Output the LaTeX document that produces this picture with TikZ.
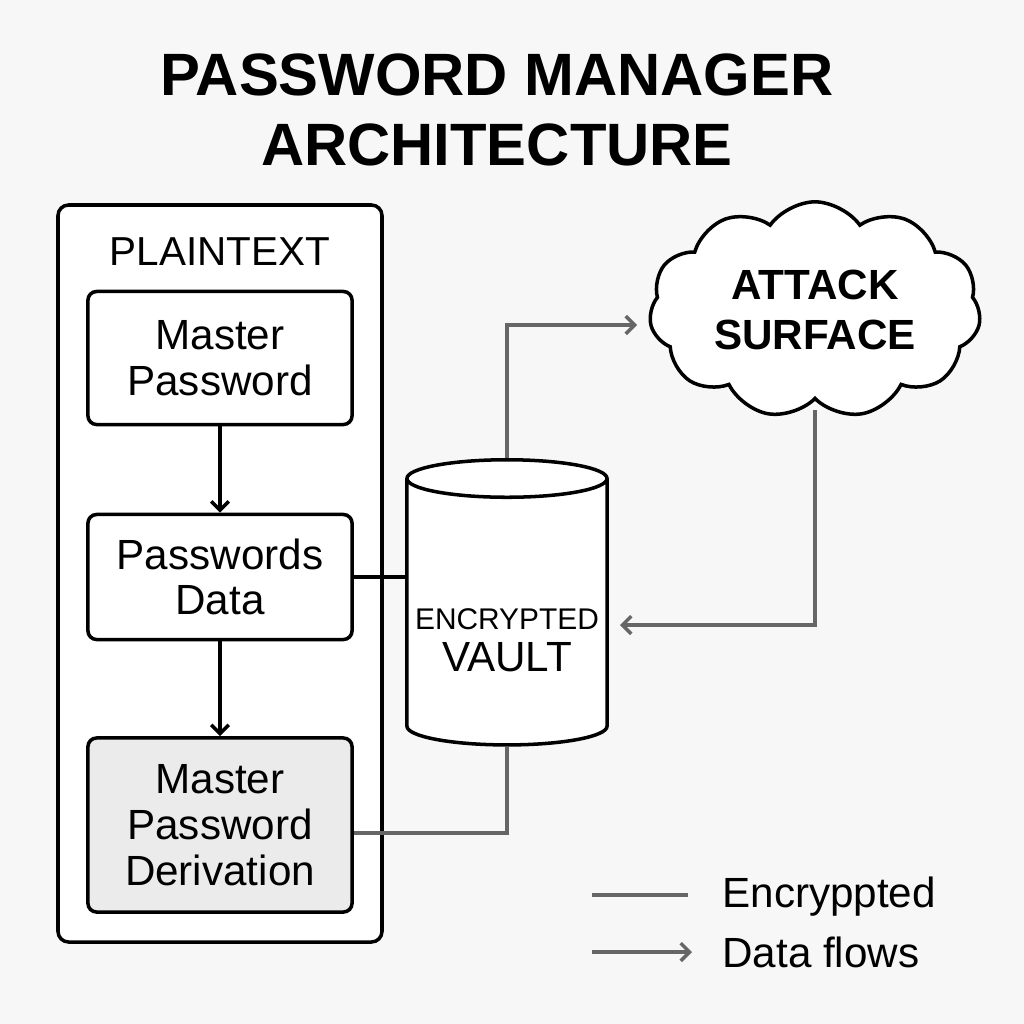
\documentclass[tikz,border=0pt]{standalone}
\usepackage{fontspec}
\setmainfont{Liberation Sans}
\usetikzlibrary{shapes.geometric,shapes.symbols,arrows.meta}
\tikzset{
  box/.style={draw, line width=1pt, rounded corners=2.5pt, minimum width=2.64cm, align=center, font=\fontsize{12}{13}\selectfont},
  flow/.style={draw=black!60, line width=1pt},
  flowarrow/.style={flow, -{Straight Barb[length=2.5pt,width=5pt]}},
  down/.style={line width=1pt, -{Straight Barb[length=2.5pt,width=5pt]}}
}
\begin{document}
\begin{tikzpicture}[x=0.01cm,y=-0.01cm]
        \fill[white!97!black] (0,0) rectangle (1024,1024);
        \useasboundingbox (0,0) rectangle (1024,1024);
        % title
        \node[font=\bfseries\fontsize{17}{20}\selectfont] (title1) at (497,75) {PASSWORD MANAGER};
        \node[font=\bfseries\fontsize{17}{20}\selectfont] (title2) at (497,145) {ARCHITECTURE};
        % plaintext side
        \draw[line width=1pt, rounded corners=3pt, fill=white] (58,205) rectangle (382,942);
        \node[font=\fontsize{11.5}{13}\selectfont] (plain) at (220,252) {PLAINTEXT};
        \node[box, fill=white, minimum height=1.33cm] (master) at (220,358) {Master\\Password};
        \node[box, fill=white, minimum height=1.25cm] (data) at (220,577) {Passwords\\Data};
        \node[box, fill=black!8, minimum height=1.74cm] (deriv) at (220,825) {Master\\Password\\Derivation};
        \draw[down] (master) -- (data);
        \draw[down] (data) -- (deriv);
        % vault
        \node[cylinder, shape border rotate=90, draw, line width=1pt, fill=white, minimum width=2cm, minimum height=2.85cm, aspect=1.6] (vault) at (507,617) {};
        \node[align=center, font=\fontsize{8.5}{9}\selectfont] (vaulttext) at (507,640) {ENCRYPTED\\[3pt]{\fontsize{12}{12}\selectfont VAULT}};
        \draw[line width=1pt] (data.east) -- (data.east -| vault.west);
        \draw[flow] (deriv.east |- 0,833) -- (507,833) -- (vault.bottom);
        % attack surface
        \node[cloud, draw, line width=1pt, fill=white, cloud puffs=11, cloud puff arc=110, aspect=1.8, minimum width=3.2cm, minimum height=1.8cm, align=center, font=\bfseries\fontsize{12}{14}\selectfont] (cloud) at (815,310) {ATTACK\\SURFACE};
        \coordinate (up) at (637,325);
        \coordinate (back) at (620,625);
        \draw[flowarrow] (vault.top) -- (507,325) -- (up);
        \draw[flowarrow] (815,410) -- (815,625) -- (back);
        % legend
        \coordinate (l1) at (592,895);
        \coordinate (l2) at (688,895);
        \coordinate (l3) at (592,952);
        \coordinate (l4) at (692,952);
        \draw[flow] (l1) -- (l2);
        \draw[flowarrow] (l3) -- (l4);
        \node[anchor=west, font=\fontsize{12}{13}\selectfont] (enc) at (710,897) {Encryppted};
        \node[anchor=west, font=\fontsize{12}{13}\selectfont] (flows) at (710,952) {Data flows};
    \end{tikzpicture}
\end{document}
